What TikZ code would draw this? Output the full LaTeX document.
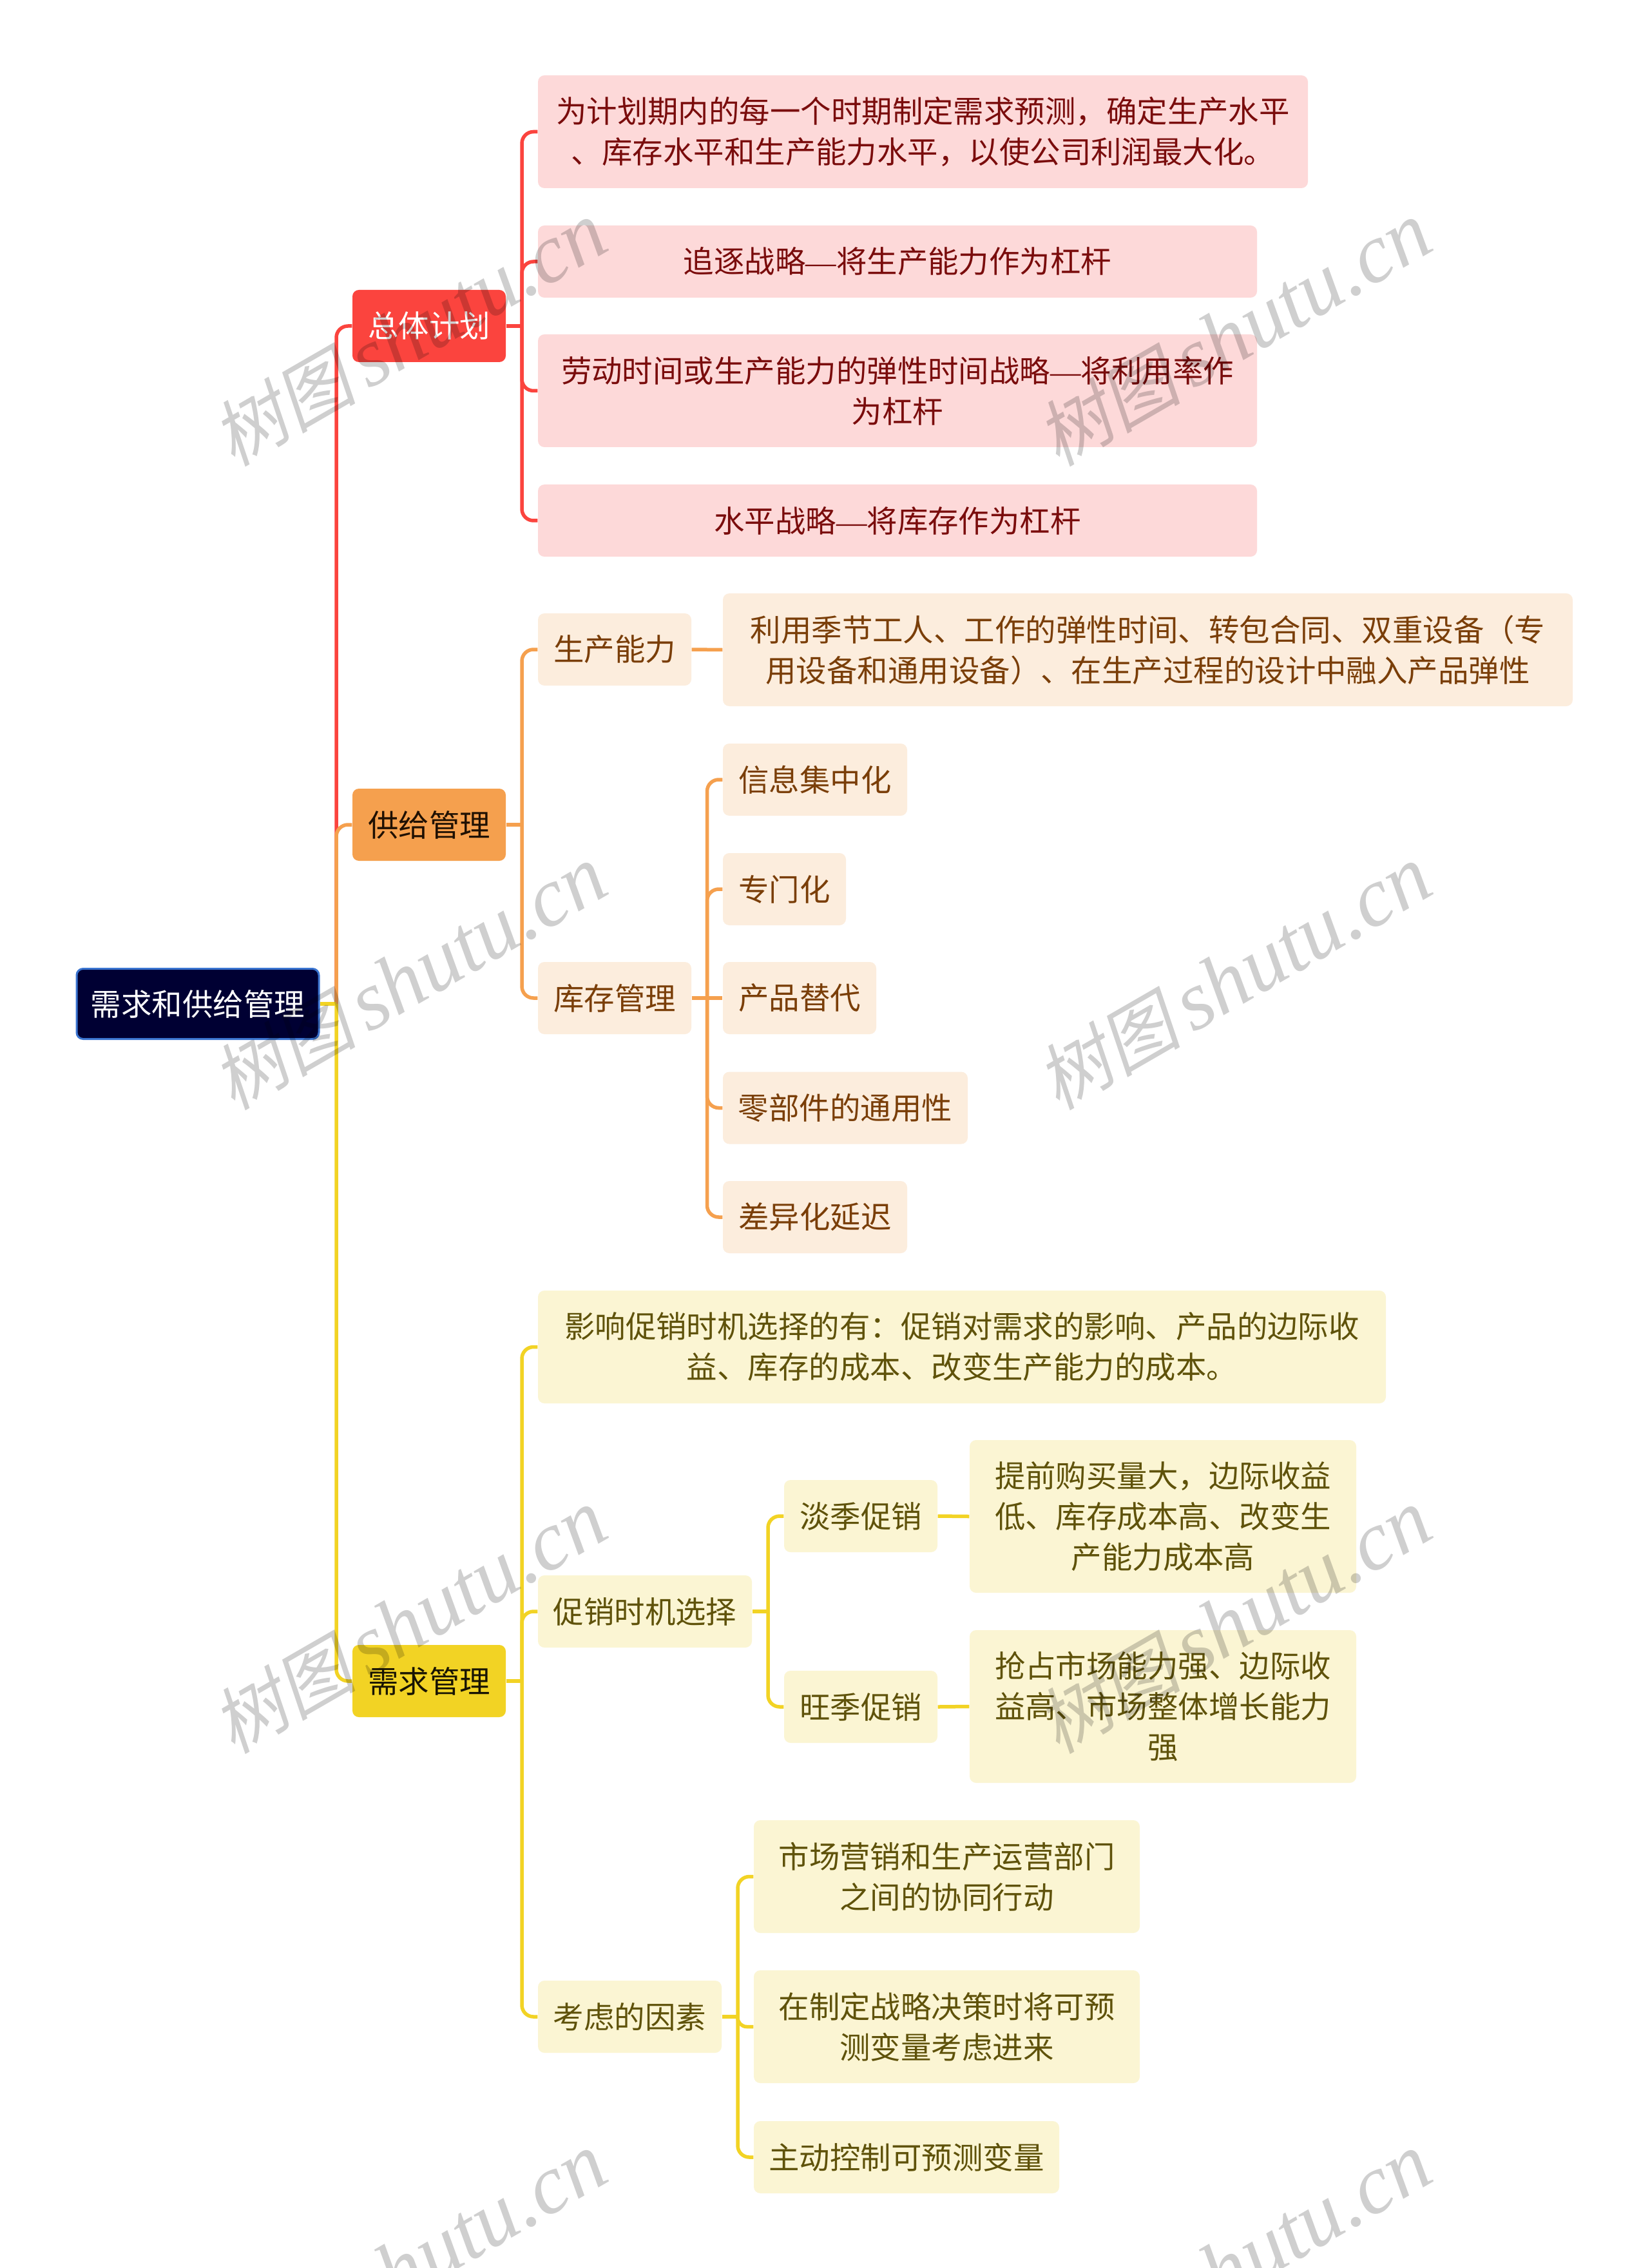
\documentclass[tikz,border=0pt]{standalone}
\usepackage{fontspec}
\setmainfont{Noto Sans CJK SC}
\newfontfamily\wmlatin{Liberation Serif}
\newfontfamily\wmcjk[FakeSlant=0.2]{Noto Sans CJK SC}
\usetikzlibrary{calc}
\definecolor{redmain}{HTML}{FB443E}
\definecolor{redsoft}{HTML}{FDD9D9}
\definecolor{redtext}{HTML}{7A0C0C}
\definecolor{orangemain}{HTML}{F5A04E}
\definecolor{orangesoft}{HTML}{FCEDDD}
\definecolor{orangetext}{HTML}{7A3E08}
\definecolor{yellowmain}{HTML}{F2D324}
\definecolor{yellowsoft}{HTML}{FBF5D3}
\definecolor{yellowtext}{HTML}{5F520A}
\definecolor{rootfill}{HTML}{000033}
\definecolor{rootedge}{HTML}{3A74D0}
\tikzset{
	box/.style={rounded corners=1mm, inner sep=0pt, align=center, font=\fontsize{13.5}{17.93}\selectfont},
	rootbox/.style={box, fill=rootfill, draw=rootedge, line width=0.3mm, text=white, minimum width=3.76cm, minimum height=1.09cm},
	redhead/.style={box, fill=redmain, text=white, minimum width=2.38cm, minimum height=1.12cm},
	orangehead/.style={box, fill=orangemain, text=black!75!orangetext, minimum width=2.38cm, minimum height=1.12cm},
	yellowhead/.style={box, fill=yellowmain, text=black!75!yellowtext, minimum width=2.38cm, minimum height=1.12cm},
	redleaf/.style={box, fill=redsoft, text=redtext},
	orangeleaf/.style={box, fill=orangesoft, text=orangetext},
	yellowleaf/.style={box, fill=yellowsoft, text=yellowtext},
	redline/.style={draw=redmain, line width=0.55mm, rounded corners=1.8mm},
	orangeline/.style={draw=orangemain, line width=0.55mm, rounded corners=1.8mm},
	yellowline/.style={draw=yellowmain, line width=0.55mm, rounded corners=1.8mm},
	wmark/.style={rotate=30, text=black, text opacity=0.19, inner sep=0pt}
}
\newcommand{\wmtext}{{\fontsize{32}{32}\wmcjk\selectfont 树图}\hspace{5pt}{\fontsize{37}{37}\wmlatin\itshape\selectfont shutu.cn}}
\newcommand{\longdash}{{\wmlatin —}}

\begin{document}
\begin{tikzpicture}[y=-1cm]
	\path[use as bounding box, clip] (0, 0) rectangle (25.6, 35.2);
	\fill[white] (0, 0) rectangle (25.6, 35.2);
	%%%%% BOXES %%%%%
	\node[rootbox] (root) at (3.07, 15.58) {需求和供给管理};
	\node[redhead] (plan) at (6.66, 5.06) {总体计划};
	\node[orangehead] (supply) at (6.66, 12.80) {供给管理};
	\node[yellowhead] (demand) at (6.66, 26.09) {需求管理};

	\node[redleaf, minimum width=11.95cm, minimum height=1.75cm] (planA) at (14.325, 2.045) {为计划期内的每一个时期制定需求预测，确定生产水平\\、库存水平和生产能力水平，以使公司利润最大化。};
	\node[redleaf, minimum width=11.16cm, minimum height=1.12cm] (planB) at (13.93, 4.06) {追逐战略\longdash 将生产能力作为杠杆};
	\node[redleaf, minimum width=11.16cm, minimum height=1.75cm] (planC) at (13.93, 6.065) {劳动时间或生产能力的弹性时间战略\longdash 将利用率作\\为杠杆};
	\node[redleaf, minimum width=11.16cm, minimum height=1.12cm] (planD) at (13.93, 8.08) {水平战略\longdash 将库存作为杠杆};

	\node[orangeleaf, minimum width=2.38cm, minimum height=1.12cm] (capacity) at (9.54, 10.08) {生产能力};
	\node[orangeleaf, minimum width=13.19cm, minimum height=1.75cm] (capacityA) at (17.815, 10.085) {利用季节工人、工作的弹性时间、转包合同、双重设备（专\\用设备和通用设备）、在生产过程的设计中融入产品弹性};
	\node[orangeleaf, minimum width=2.38cm, minimum height=1.12cm] (stock) at (9.54, 15.49) {库存管理};
	\node[orangeleaf, minimum width=2.86cm, minimum height=1.12cm] (stockA) at (12.65, 12.10) {信息集中化};
	\node[orangeleaf, minimum width=1.91cm, minimum height=1.12cm] (stockB) at (12.175, 13.80) {专门化};
	\node[orangeleaf, minimum width=2.38cm, minimum height=1.12cm] (stockC) at (12.41, 15.49) {产品替代};
	\node[orangeleaf, minimum width=3.80cm, minimum height=1.12cm] (stockD) at (13.12, 17.195) {零部件的通用性};
	\node[orangeleaf, minimum width=2.86cm, minimum height=1.12cm] (stockE) at (12.65, 18.89) {差异化延迟};

	\node[yellowleaf, minimum width=13.16cm, minimum height=1.75cm] (promoA) at (14.93, 20.905) {影响促销时机选择的有：促销对需求的影响、产品的边际收\\益、库存的成本、改变生产能力的成本。};
	\node[yellowleaf, minimum width=3.32cm, minimum height=1.12cm] (promo) at (10.01, 25.01) {促销时机选择};
	\node[yellowleaf, minimum width=2.38cm, minimum height=1.12cm] (low) at (13.36, 23.53) {淡季促销};
	\node[yellowleaf, minimum width=6.00cm, minimum height=2.37cm] (lowA) at (18.05, 23.535) {提前购买量大，边际收益\\低、库存成本高、改变生\\产能力成本高};
	\node[yellowleaf, minimum width=2.38cm, minimum height=1.12cm] (high) at (13.36, 26.49) {旺季促销};
	\node[yellowleaf, minimum width=6.00cm, minimum height=2.37cm] (highA) at (18.05, 26.485) {抢占市场能力强、边际收\\益高、市场整体增长能力\\强};
	\node[yellowleaf, minimum width=2.85cm, minimum height=1.12cm] (factor) at (9.775, 31.30) {考虑的因素};
	\node[yellowleaf, minimum width=5.99cm, minimum height=1.75cm] (factorA) at (14.695, 29.125) {市场营销和生产运营部门\\之间的协同行动};
	\node[yellowleaf, minimum width=5.99cm, minimum height=1.75cm] (factorB) at (14.695, 31.455) {在制定战略决策时将可预\\测变量考虑进来};
	\node[yellowleaf, minimum width=4.74cm, minimum height=1.12cm] (factorC) at (14.07, 33.48) {主动控制可预测变量};

	%%%%% FORKS %%%%%
	\coordinate (rootfork) at (5.22, 15.58);
	\coordinate (planfork) at (8.10, 5.06);
	\coordinate (supplyfork) at (8.10, 12.80);
	\coordinate (demandfork) at (8.10, 26.09);
	\coordinate (stockfork) at (10.975, 15.49);
	\coordinate (promofork) at (11.92, 25.01);
	\coordinate (factorfork) at (11.45, 31.30);

	%%%%% RED %%%%%
	\draw[redline] (rootfork) |- (plan.west);
	\draw[redline] (plan.east) -- (planfork);
	\draw[redline] (planfork) |- (planA.west);
	\draw[redline] (planfork) |- (planB.west);
	\draw[redline] (planfork) |- (planC.west);
	\draw[redline] (planfork) |- (planD.west);

	%%%%% ORANGE %%%%%
	\draw[orangeline] (rootfork) |- (supply.west);
	\draw[orangeline] (supply.east) -- (supplyfork);
	\draw[orangeline] (supplyfork) |- (capacity.west);
	\draw[orangeline] (supplyfork) |- (stock.west);
	\draw[orangeline] (capacity.east) -- (capacityA.west);
	\draw[orangeline] (stock.east) -- (stockC.west);
	\draw[orangeline] (stockfork) |- (stockA.west);
	\draw[orangeline] (stockfork) |- (stockB.west);
	\draw[orangeline] (stockfork) |- (stockD.west);
	\draw[orangeline] (stockfork) |- (stockE.west);

	%%%%% YELLOW %%%%%
	\draw[yellowline] (root.east) -- (rootfork);
	\draw[yellowline] (rootfork) |- (demand.west);
	\draw[yellowline] (demand.east) -- (demandfork);
	\draw[yellowline] (demandfork) |- (promoA.west);
	\draw[yellowline] (demandfork) |- (promo.west);
	\draw[yellowline] (demandfork) |- (factor.west);
	\draw[yellowline] (promo.east) -- (promofork);
	\draw[yellowline] (promofork) |- (low.west);
	\draw[yellowline] (promofork) |- (high.west);
	\draw[yellowline] (low.east) -- (lowA.west);
	\draw[yellowline] (high.east) -- (highA.west);
	\draw[yellowline] (factor.east) -- (factorfork);
	\draw[yellowline] (factorfork) |- (factorA.west);
	\draw[yellowline, rounded corners=1.4mm] (factorfork) |- (factorB.west);
	\draw[yellowline] (factorfork) |- (factorC.west);

	%%%%% WATERMARK %%%%%
	\node[wmark] (markA) at (6.35, 5.19) {\wmtext};
	\node[wmark] (markB) at (19.15, 5.19) {\wmtext};
	\node[wmark] (markC) at (6.35, 15.18) {\wmtext};
	\node[wmark] (markD) at (19.15, 15.18) {\wmtext};
	\node[wmark] (markE) at (6.35, 25.17) {\wmtext};
	\node[wmark] (markF) at (19.15, 25.17) {\wmtext};
	\node[wmark] (markG) at (6.35, 35.16) {\wmtext};
	\node[wmark] (markH) at (19.15, 35.16) {\wmtext};
\end{tikzpicture}
\end{document}
